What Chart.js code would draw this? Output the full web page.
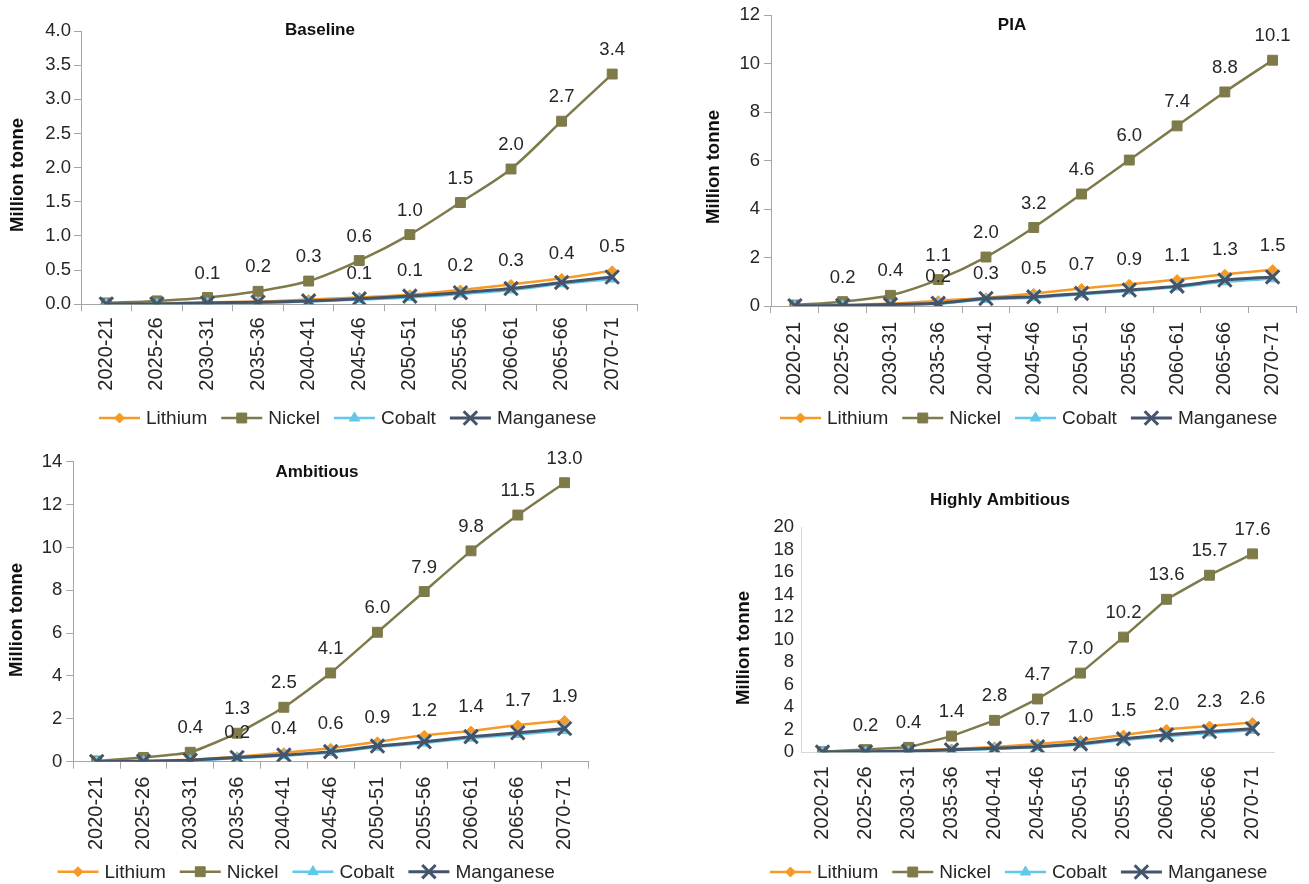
<!DOCTYPE html>
<html>
<head>
<meta charset="utf-8">
<script src="https://cdn.jsdelivr.net/npm/chart.js@4.4.1/dist/chart.umd.min.js"></script>
<style>
  html, body { margin: 0; padding: 0; background: #ffffff; }
  #wrap { position: relative; width: 1309px; height: 884px; overflow: hidden; }
  canvas { position: absolute; }
</style>
</head>
<body>
<div id="wrap">
  <canvas id="baseline" width="650" height="440" style="left:0;top:0"></canvas>
  <canvas id="pia" width="659" height="440" style="left:650px;top:0"></canvas>
  <canvas id="ambitious" width="650" height="444" style="left:0;top:440px"></canvas>
  <canvas id="highly" width="659" height="444" style="left:650px;top:440px"></canvas>
</div>
<script>
// Periods on the category axis
const periods = ['2020-21', '2025-26', '2030-31', '2035-36', '2040-41', '2045-46',
                 '2050-51', '2055-56', '2060-61', '2065-66', '2070-71'];

// Demand by mineral, million tonne — Baseline
const baselineLithium   = [0.01, 0.01, 0.03, 0.04, 0.07, 0.10, 0.14, 0.21, 0.29, 0.38, 0.49];
const baselineNickel    = [0.02, 0.05, 0.10, 0.19, 0.34, 0.64, 1.02, 1.49, 1.98, 2.68, 3.37];
const baselineCobalt    = [0.003, 0.003, 0.015, 0.02, 0.04, 0.07, 0.10, 0.15, 0.21, 0.30, 0.37];
const baselineManganese = [0.005, 0.005, 0.02, 0.03, 0.05, 0.08, 0.12, 0.17, 0.23, 0.32, 0.40];

// PIA
const piaLithium   = [0.02, 0.04, 0.10, 0.22, 0.34, 0.52, 0.72, 0.90, 1.09, 1.31, 1.50];
const piaNickel    = [0.04, 0.18, 0.44, 1.09, 2.02, 3.24, 4.62, 6.02, 7.43, 8.83, 10.14];
const piaCobalt    = [0.005, 0.01, 0.04, 0.09, 0.27, 0.34, 0.48, 0.62, 0.78, 1.00, 1.12];
const piaManganese = [0.01, 0.02, 0.06, 0.11, 0.31, 0.38, 0.52, 0.66, 0.82, 1.07, 1.20];

// Ambitious
const ambitiousLithium   = [0.02, 0.03, 0.09, 0.23, 0.42, 0.63, 0.93, 1.23, 1.43, 1.71, 1.92];
const ambitiousNickel    = [0.03, 0.20, 0.44, 1.33, 2.54, 4.14, 6.04, 7.94, 9.84, 11.51, 13.02];
const ambitiousCobalt    = [0.005, 0.01, 0.05, 0.17, 0.28, 0.43, 0.68, 0.87, 1.10, 1.27, 1.45];
const ambitiousManganese = [0.01, 0.02, 0.07, 0.20, 0.31, 0.47, 0.73, 0.93, 1.17, 1.35, 1.55];

// Highly Ambitious
const highlyLithium   = [0.03, 0.06, 0.15, 0.30, 0.48, 0.74, 1.04, 1.54, 2.04, 2.34, 2.64];
const highlyNickel    = [0.05, 0.24, 0.44, 1.44, 2.84, 4.74, 7.04, 10.24, 13.60, 15.74, 17.64];
const highlyCobalt    = [0.01, 0.03, 0.08, 0.19, 0.30, 0.45, 0.68, 1.10, 1.43, 1.72, 1.95];
const highlyManganese = [0.02, 0.04, 0.10, 0.22, 0.35, 0.50, 0.75, 1.20, 1.55, 1.85, 2.10];

// First period that carries a value label, per labelled series
const baselineLabelFrom  = { Lithium: 5, Nickel: 2 };
const piaLabelFrom       = { Lithium: 3, Nickel: 1 };
const ambitiousLabelFrom = { Lithium: 3, Nickel: 2 };
const highlyLabelFrom    = { Lithium: 5, Nickel: 1 };

const FONT = '"Liberation Sans", Arial, Helvetica, sans-serif';
const TEXT = '#262626';

const seriesStyle = {
  Lithium:   { color: '#f59a26', pointStyle: 'rectRot',  radius: 5,   width: 2.5, pbw: 1, order: 4 },
  Nickel:    { color: '#7f7a4a', pointStyle: 'rect',     radius: 7,   width: 2.5, pbw: 1, order: 3 },
  Cobalt:    { color: '#62c8ea', pointStyle: 'triangle', radius: 6,   width: 2.5, pbw: 1, order: 2 },
  Manganese: { color: '#44546a', pointStyle: 'crossRot', radius: 9.5, width: 3,   pbw: 3, order: 1 }
};
const legendOrder = ['Lithium', 'Nickel', 'Cobalt', 'Manganese'];

function makeDataset(name, values, tension) {
  const s = seriesStyle[name];
  return {
    label: name,
    data: values,
    borderColor: s.color,
    backgroundColor: s.color,
    borderWidth: s.width,
    pointStyle: s.pointStyle,
    pointRadius: s.radius,
    pointHoverRadius: s.radius,
    pointBackgroundColor: s.color,
    pointBorderColor: s.color,
    pointBorderWidth: s.pbw,
    tension: tension,
    order: s.order
  };
}

// Titles, axis title, value labels and the line+marker legend
const decorPlugin = {
  id: 'decor',
  afterDatasetsDraw(chart) {
    const cfg = chart.options.plugins.decor;
    const ctx = chart.ctx;
    ctx.save();
    ctx.font = '18.5px ' + FONT;
    ctx.fillStyle = TEXT;
    ctx.textAlign = 'center';
    ctx.textBaseline = 'middle';
    chart.data.datasets.forEach((ds, di) => {
      const from = cfg.labelFrom[ds.label];
      if (from === undefined) return;
      const meta = chart.getDatasetMeta(di);
      meta.data.forEach((pt, i) => {
        if (i < from) return;
        ctx.fillText(ds.data[i].toFixed(1), pt.x, pt.y - 24);
      });
    });
    ctx.restore();
  },
  afterDraw(chart) {
    const cfg = chart.options.plugins.decor;
    const ctx = chart.ctx;
    ctx.save();
    // chart title
    ctx.fillStyle = '#111111';
    ctx.font = 'bold 17px ' + FONT;
    ctx.textAlign = 'center';
    ctx.textBaseline = 'middle';
    ctx.fillText(cfg.title, cfg.titleX, cfg.titleY);
    // value-axis title
    ctx.save();
    ctx.translate(cfg.axisTitleX, cfg.axisTitleY);
    ctx.rotate(-Math.PI / 2);
    ctx.font = 'bold 18.5px ' + FONT;
    ctx.fillText('Million tonne', 0, 0);
    ctx.restore();
    // legend
    ctx.font = '19px ' + FONT;
    ctx.textAlign = 'left';
    let x = cfg.legendX;
    const y = cfg.legendY;
    legendOrder.forEach(name => {
      const s = seriesStyle[name];
      ctx.strokeStyle = s.color;
      ctx.lineWidth = s.width;
      ctx.beginPath();
      ctx.moveTo(x, y);
      ctx.lineTo(x + 41, y);
      ctx.stroke();
      ctx.fillStyle = s.color;
      ctx.lineWidth = s.pbw;
      Chart.helpers.drawPoint(ctx, {
        pointStyle: s.pointStyle, radius: s.radius, rotation: 0, borderWidth: s.pbw
      }, x + 20.5, y);
      ctx.fillStyle = TEXT;
      ctx.fillText(name, x + 47, y + 1);
      x += 47 + ctx.measureText(name).width + 14;
    });
    ctx.restore();
  }
};

function buildChart(id, opt) {
  const datasets = [
    makeDataset('Lithium', opt.lithium, opt.tension),
    makeDataset('Nickel', opt.nickel, opt.tension),
    makeDataset('Cobalt', opt.cobalt, opt.tension),
    makeDataset('Manganese', opt.manganese, opt.tension)
  ];
  return new Chart(document.getElementById(id), {
    type: 'line',
    data: { labels: periods, datasets },
    plugins: [decorPlugin],
    options: {
      responsive: false,
      animation: false,
      events: [],
      layout: { padding: { left: 0, top: opt.padTop, right: opt.padRight, bottom: 0 } },
      plugins: {
        legend: { display: false },
        title: { display: false },
        tooltip: { enabled: false },
        decor: {
          title: opt.title, titleX: opt.titleX, titleY: opt.titleY,
          axisTitleX: opt.axisTitleX, axisTitleY: opt.axisTitleY,
          legendX: opt.legendX, legendY: opt.legendY,
          labelFrom: opt.labelFrom
        }
      },
      scales: {
        x: {
          type: 'category',
          offset: true,
          grid: {
            display: true, offset: true, drawOnChartArea: false,
            drawTicks: opt.xTicks, tickLength: 7, tickColor: opt.axisColor, tickWidth: 1
          },
          border: { display: true, color: opt.axisColor, width: 1 },
          ticks: {
            autoSkip: false, minRotation: 90, maxRotation: 90,
            padding: opt.xPad, color: TEXT, font: { family: FONT, size: 20 }
          },
          afterFit(scale) { scale.height = opt.xHeight; }
        },
        y: {
          min: 0, max: opt.yMax,
          grid: {
            display: true, drawOnChartArea: false,
            drawTicks: opt.yTicks, tickLength: 7, tickColor: opt.axisColor, tickWidth: 1
          },
          border: { display: true, color: opt.axisColor, width: 1 },
          ticks: {
            autoSkip: false,
            stepSize: opt.yStep, padding: opt.yPad, color: TEXT,
            font: { family: FONT, size: 18.5 },
            callback: v => v.toFixed(opt.yDecimals)
          },
          afterFit(scale) { scale.width = opt.yWidth; }
        }
      }
    }
  });
}

buildChart('baseline', {
  lithium: baselineLithium, nickel: baselineNickel, cobalt: baselineCobalt, manganese: baselineManganese,
  labelFrom: baselineLabelFrom, tension: 0.3,
  title: 'Baseline', titleX: 320, titleY: 30, axisTitleX: 17.5, axisTitleY: 175,
  legendX: 99, legendY: 418,
  padTop: 31, padRight: 2, yWidth: 81, xHeight: 135.7,
  yMax: 4, yStep: 0.5, yDecimals: 1, yPad: 3, yTicks: true,
  xTicks: true, xPad: 6, axisColor: '#a6a6a6'
});

buildChart('pia', {
  lithium: piaLithium, nickel: piaNickel, cobalt: piaCobalt, manganese: piaManganese,
  labelFrom: piaLabelFrom, tension: 0.3,
  title: 'PIA', titleX: 362, titleY: 25, axisTitleX: 64, axisTitleY: 167,
  legendX: 130, legendY: 418,
  padTop: 13.3, padRight: 5, yWidth: 121, xHeight: 134,
  yMax: 12, yStep: 2, yDecimals: 0, yPad: 4, yTicks: true,
  xTicks: true, xPad: 9, axisColor: '#a6a6a6'
});

buildChart('ambitious', {
  lithium: ambitiousLithium, nickel: ambitiousNickel, cobalt: ambitiousCobalt, manganese: ambitiousManganese,
  labelFrom: ambitiousLabelFrom, tension: 0.15,
  title: 'Ambitious', titleX: 317, titleY: 32, axisTitleX: 17, axisTitleY: 180,
  legendX: 57.5, legendY: 431.7,
  padTop: 21.7, padRight: 62, yWidth: 73.3, xHeight: 122.3,
  yMax: 14, yStep: 2, yDecimals: 0, yPad: 4, yTicks: true,
  xTicks: true, xPad: 8, axisColor: '#a6a6a6'
});

buildChart('highly', {
  lithium: highlyLithium, nickel: highlyNickel, cobalt: highlyCobalt, manganese: highlyManganese,
  labelFrom: highlyLabelFrom, tension: 0,
  title: 'Highly Ambitious', titleX: 350, titleY: 60, axisTitleX: 94, axisTitleY: 208,
  legendX: 120, legendY: 432,
  padTop: 87.3, padRight: 35, yWidth: 151, xHeight: 131.7,
  yMax: 20, yStep: 2, yDecimals: 0, yPad: 7, yTicks: false,
  xTicks: false, xPad: 14, axisColor: '#d9d9d9'
});
</script>
</body>
</html>
